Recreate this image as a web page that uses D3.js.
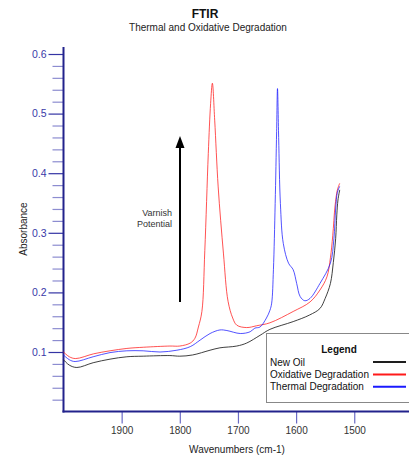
<!DOCTYPE html>
<html>
<head>
<meta charset="utf-8">
<script src="https://cdn.jsdelivr.net/npm/d3@7"></script>
<style>
  body { margin: 0; background: #fff; }
  svg { display: block; font-family: "Liberation Sans", Arial, sans-serif; }
</style>
</head>
<body>
<svg id="chart" width="409" height="456"></svg>
<script>
// spectra (wavenumber in cm-1, absorbance)
const newOilWn = [2000, 1990, 1977, 1949, 1920, 1891, 1863, 1817, 1800, 1778, 1748, 1731, 1702, 1685, 1662, 1645, 1605, 1577, 1559, 1550, 1541, 1536, 1532, 1530, 1528, 1525];
const newOilAbs = [0.087, 0.078, 0.074, 0.082, 0.088, 0.092, 0.093, 0.094, 0.093, 0.095, 0.103, 0.107, 0.110, 0.115, 0.128, 0.138, 0.151, 0.162, 0.173, 0.190, 0.215, 0.250, 0.290, 0.330, 0.355, 0.372];

const oxidWn = [2000, 1990, 1979, 1948, 1920, 1891, 1862, 1817, 1800, 1782, 1774, 1768, 1762, 1757, 1751, 1747, 1744, 1740, 1734, 1725, 1717, 1709, 1702, 1685, 1668, 1645, 1605, 1576, 1559, 1547, 1541, 1537, 1533, 1529, 1525];
const oxidAbs = [0.100, 0.092, 0.089, 0.097, 0.102, 0.106, 0.108, 0.110, 0.110, 0.115, 0.123, 0.142, 0.168, 0.270, 0.433, 0.517, 0.551, 0.489, 0.377, 0.266, 0.185, 0.157, 0.145, 0.141, 0.144, 0.149, 0.168, 0.184, 0.204, 0.226, 0.258, 0.295, 0.345, 0.372, 0.383];

const thermWn = [2000, 1990, 1980, 1949, 1920, 1891, 1863, 1834, 1805, 1782, 1765, 1748, 1731, 1719, 1696, 1679, 1671, 1662, 1651, 1645, 1642, 1639, 1636, 1633.5, 1632, 1630, 1627, 1622, 1613, 1605, 1599, 1593, 1585, 1576, 1559, 1541, 1535, 1532, 1529, 1525];
const thermAbs = [0.095, 0.087, 0.084, 0.092, 0.099, 0.102, 0.102, 0.100, 0.103, 0.109, 0.120, 0.131, 0.137, 0.136, 0.131, 0.134, 0.140, 0.142, 0.157, 0.170, 0.182, 0.238, 0.349, 0.470, 0.542, 0.460, 0.349, 0.282, 0.249, 0.238, 0.215, 0.193, 0.186, 0.190, 0.215, 0.249, 0.290, 0.340, 0.368, 0.378];

const seriesNames = ["New Oil", "Oxidative Degradation", "Thermal Degradation"];
const seriesColors = ["#1e1e1e", "#ff1a1a", "#1a1aff"];

const yMajorTicks = [0.1, 0.2, 0.3, 0.4, 0.5, 0.6];
const xTicks = [1900, 1800, 1700, 1600, 1500];

const svg = d3.select("#chart");

const x = d3.scaleLinear().domain([2000, 1400]).range([63.5, 412.4]);
const y = d3.scaleLinear().domain([0, 0.6]).range([411.6, 54]);

// titles
svg.append("text").attr("x", 205).attr("y", 18).attr("text-anchor", "middle")
  .attr("font-size", 12).attr("font-weight", "bold").attr("fill", "#111").text("FTIR");
svg.append("text").attr("x", 208).attr("y", 31).attr("text-anchor", "middle")
  .attr("font-size", 10).attr("fill", "#222").text("Thermal and Oxidative Degradation");

// y axis: minor ticks first, then major with labels
const minorTicks = d3.range(1, 30).map(i => i * 0.02).filter(v => Math.abs(v * 10 - Math.round(v * 10)) > 1e-6);
const yMinor = svg.append("g").attr("transform", "translate(63.5,0)")
  .call(d3.axisLeft(y).tickValues(minorTicks).tickSize(11).tickFormat(""));
yMinor.select(".domain").remove();
yMinor.selectAll(".tick line").attr("stroke", "#8c8cd0").attr("stroke-width", 1.2);

const yAxis = svg.append("g").attr("transform", "translate(63.5,0)")
  .call(d3.axisLeft(y).tickValues(yMajorTicks).tickSize(15).tickPadding(2).tickFormat(d3.format(".1f")));
yAxis.select(".domain").remove();
yAxis.selectAll(".tick line").attr("stroke", "#3434a4").attr("stroke-width", 1.2);
yAxis.selectAll(".tick text").attr("fill", "#3a3aa8").attr("font-size", 10.5)
  .attr("font-family", "Liberation Sans, Arial, sans-serif");

// x axis
const xAxis = svg.append("g").attr("transform", `translate(0,${y(0)})`)
  .call(d3.axisBottom(x).tickValues(xTicks).tickSize(12).tickPadding(3).tickSizeOuter(0).tickFormat(d3.format("d")));
xAxis.select(".domain").remove();
xAxis.selectAll(".tick line").attr("stroke", "#6a6ac4").attr("stroke-width", 1.2);
xAxis.selectAll(".tick text").attr("fill", "#333").attr("font-size", 10)
  .attr("font-family", "Liberation Sans, Arial, sans-serif");

// axis lines
svg.append("line").attr("x1", 63.5).attr("x2", 63.5).attr("y1", 47).attr("y2", y(0) + 1)
  .attr("stroke", "#22228c").attr("stroke-width", 2);
svg.append("line").attr("x1", 62.5).attr("x2", 409).attr("y1", y(0)).attr("y2", y(0))
  .attr("stroke", "#22228c").attr("stroke-width", 2);

// axis titles
svg.append("text").attr("x", 237).attr("y", 453).attr("text-anchor", "middle")
  .attr("font-size", 10).attr("fill", "#222").text("Wavenumbers (cm-1)");
svg.append("text").attr("transform", "translate(27,229) rotate(-90)").attr("text-anchor", "middle")
  .attr("font-size", 10).attr("fill", "#222").text("Absorbance");

// spectra
const line = d3.line()
  .x(d => x(d[0]))
  .y(d => y(d[1]))
  .curve(d3.curveCatmullRom.alpha(0.5));

const series = [
  d3.zip(newOilWn, newOilAbs),
  d3.zip(oxidWn, oxidAbs),
  d3.zip(thermWn, thermAbs),
];

series.forEach((pts, i) => {
  svg.append("path").datum(pts)
    .attr("fill", "none")
    .attr("stroke", seriesColors[i])
    .attr("stroke-width", 1)
    .attr("stroke-opacity", i === 0 ? 0.85 : 0.75)
    .attr("d", line);
});

// varnish potential arrow
svg.append("line").attr("x1", 180).attr("x2", 180).attr("y1", 302).attr("y2", 146)
  .attr("stroke", "#000").attr("stroke-width", 2);
svg.append("path").attr("d", "M180,136 L184.5,148 L175.5,148 Z").attr("fill", "#000");
svg.append("text").attr("x", 172).attr("y", 216).attr("text-anchor", "end")
  .attr("font-size", 9).attr("fill", "#333").text("Varnish");
svg.append("text").attr("x", 172).attr("y", 227).attr("text-anchor", "end")
  .attr("font-size", 9).attr("fill", "#333").text("Potential");

// legend
const legend = svg.append("g");
legend.append("rect").attr("x", 266.5).attr("y", 333.5).attr("width", 150).attr("height", 69)
  .attr("fill", "#fff").attr("stroke", "#888").attr("stroke-width", 1);
legend.append("text").attr("x", 339).attr("y", 353).attr("text-anchor", "middle")
  .attr("font-size", 10).attr("font-weight", "bold").attr("fill", "#111").text("Legend");
seriesNames.forEach((name, i) => {
  const ly = 365.5 + i * 12.4;
  legend.append("text").attr("x", 270).attr("y", ly)
    .attr("font-size", 10).attr("fill", "#111").text(name);
  legend.append("line").attr("x1", 373).attr("x2", 406).attr("y1", ly - 3.5).attr("y2", ly - 3.5)
    .attr("stroke", seriesColors[i]).attr("stroke-width", 2);
});
</script>
</body>
</html>
